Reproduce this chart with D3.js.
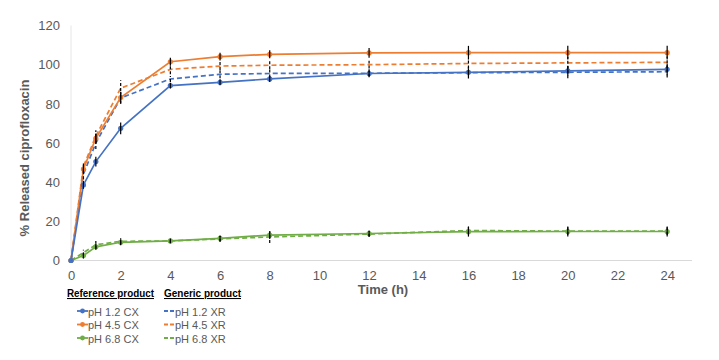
<!DOCTYPE html>
<html><head><meta charset="utf-8">
<script src="https://cdn.jsdelivr.net/npm/d3@7"></script>
<style>body{margin:0;background:#fff}svg{display:block}text{font-family:"Liberation Sans",Arial,sans-serif}</style>
</head><body><svg id="c" width="719" height="360"></svg>
<script>
const times = [0, 0.5, 1, 2, 4, 6, 8, 12, 16, 20, 24];
const xTicks = [0,2,4,6,8,10,12,14,16,18,20,22,24];
const yTicks = [0,20,40,60,80,100,120];

const ph12CX = [0, 38.6, 50.5, 67.5, 89.3, 91.0, 92.7, 95.5, 96.1, 96.8, 97.6];
const ph45CX = [0, 46.7, 62.4, 83.2, 101.5, 104.1, 105.3, 106.0, 106.1, 106.1, 106.1];
const ph68CX = [0, 2.5, 7.0, 9.3, 10.0, 11.3, 13.0, 13.8, 14.7, 14.8, 14.8];
const ph12XR = [0, 44.0, 60.0, 83.0, 92.7, 95.1, 95.5, 95.6, 95.9, 96.1, 96.4];
const ph45XR = [0, 48.0, 63.5, 88.0, 97.6, 99.3, 99.7, 100.0, 100.6, 100.9, 101.2];
const ph68XR = [0, 4.0, 8.0, 9.8, 10.0, 11.0, 12.0, 13.5, 15.3, 15.0, 15.0];

const err12CX = [0, 2.0, 2.5, 3.0, 1.5, 1.5, 1.5, 1.5, 2.0, 2.5, 3.0];
const err45CX = [0, 2.0, 2.5, 3.0, 2.0, 2.0, 2.0, 2.5, 3.5, 3.5, 3.5];
const err68CX = [0, 1.5, 1.5, 1.5, 1.2, 1.5, 2.0, 1.5, 2.5, 2.5, 2.5];
const err12XR = [0, 2.5, 3.0, 3.0, 1.5, 2.0, 2.0, 2.0, 3.0, 3.0, 3.0];
const err45XR = [0, 2.5, 3.0, 4.0, 2.5, 2.0, 2.0, 2.0, 2.5, 3.0, 3.0];
const err68XR = [0, 1.5, 2.0, 1.5, 1.2, 1.5, 3.0, 1.5, 2.0, 2.0, 2.0];

const legendHeads = ["Reference product", "Generic product"];

const series = [
  {name:"pH 1.2 CX", vals:ph12CX, err:err12CX, color:"#4472C4", dash:false},
  {name:"pH 4.5 CX", vals:ph45CX, err:err45CX, color:"#ED7D31", dash:false},
  {name:"pH 6.8 CX", vals:ph68CX, err:err68CX, color:"#70AD47", dash:false},
  {name:"pH 1.2 XR", vals:ph12XR, err:err12XR, color:"#4472C4", dash:true},
  {name:"pH 4.5 XR", vals:ph45XR, err:err45XR, color:"#ED7D31", dash:true},
  {name:"pH 6.8 XR", vals:ph68XR, err:err68XR, color:"#70AD47", dash:true}
];

const svg = d3.select("#c");
const x = d3.scaleLinear().domain([0,25]).range([71,692]);
const y = d3.scaleLinear().domain([0,120]).range([260.5,25.5]);

svg.append("line").attr("x1",x(0)).attr("x2",x(25)).attr("y1",y(0)).attr("y2",y(0)).attr("stroke","#d9d9d9").attr("stroke-width",1);
svg.append("line").attr("x1",x(0)).attr("x2",x(0)).attr("y1",y(0)).attr("y2",y(120)).attr("stroke","#e6e6e6").attr("stroke-width",1);

const xAxis = d3.axisBottom(x).tickValues(xTicks).tickSize(0).tickPadding(10);
const gx = svg.append("g").attr("transform",`translate(0,${y(0)})`).call(xAxis);
gx.select(".domain").remove();
gx.selectAll("text").attr("fill","#595959").style("font-size","13px");

const yAxis = d3.axisLeft(y).tickValues(yTicks).tickSize(0).tickPadding(11);
const gy = svg.append("g").attr("transform",`translate(${x(0)},0)`).call(yAxis);
gy.select(".domain").remove();
gy.selectAll("text").attr("fill","#595959").style("font-size","13px");

svg.append("text").attr("x",383).attr("y",294).attr("text-anchor","middle")
  .attr("fill","#595959").style("font-size","13px").style("font-weight","bold").text("Time (h)");
svg.append("text").attr("transform","translate(29,158) rotate(-90)").attr("text-anchor","middle")
  .attr("fill","#595959").style("font-size","13px").style("font-weight","bold").text("% Released ciprofloxacin");

const line = d3.line().x((d,i)=>x(times[i])).y(d=>y(d));

series.slice().reverse().forEach(s=>{
  svg.append("path").datum(s.vals).attr("d",line).attr("fill","none")
    .attr("stroke",s.color).attr("stroke-width",1.7)
    .attr("stroke-dasharray",s.dash?"5,3":null);
  if(!s.dash){
    svg.append("g").selectAll("circle").data(s.vals).join("circle")
      .attr("cx",(d,i)=>x(times[i])).attr("cy",d=>y(d)).attr("r",2.6).attr("fill",s.color);
  }
});
series.forEach(s=>{
  svg.append("g").selectAll("line").data(s.vals).join("line")
    .attr("x1",(d,i)=>x(times[i])).attr("x2",(d,i)=>x(times[i]))
    .attr("y1",(d,i)=>y(d - s.err[i])).attr("y2",(d,i)=>y(d + s.err[i]))
    .attr("stroke","#000").attr("stroke-width",1.2)
    .attr("stroke-dasharray",s.dash?"3,2":null);
});

// legend
const headX = [67, 164], headW = [87, 77];
legendHeads.forEach((t,i)=>{
  svg.append("text").attr("x",headX[i]).attr("y",297).attr("fill","#000")
    .attr("textLength",headW[i]).attr("lengthAdjust","spacingAndGlyphs")
    .style("font-size","10.5px").style("font-weight","bold").style("text-decoration","underline").text(t);
});
const rowsY = [311, 324.5, 338];
series.forEach((s,i)=>{
  const col = s.dash ? 164 : 77;
  const yy = rowsY[i%3];
  svg.append("line").attr("x1",col).attr("x2",col+11).attr("y1",yy).attr("y2",yy)
    .attr("stroke",s.color).attr("stroke-width",1.8).attr("stroke-dasharray",s.dash?"4,2":null);
  if(!s.dash) svg.append("circle").attr("cx",col+5.5).attr("cy",yy).attr("r",2.4).attr("fill",s.color);
  svg.append("text").attr("x",col+11).attr("y",yy+4.5).attr("fill","#595959").style("font-size","11px").text(s.name);
});
</script></body></html>
